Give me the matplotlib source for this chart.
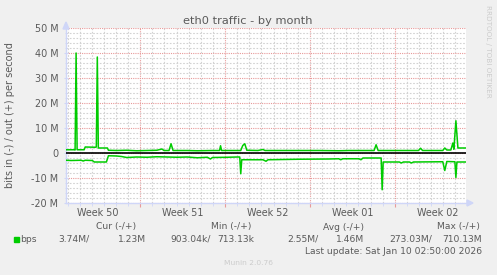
import datetime as dt
import matplotlib
matplotlib.use('Agg')
import matplotlib.pyplot as plt
import matplotlib.dates as mdates
from matplotlib.patches import Polygon, Rectangle

# ------------------------------------------------------------
# Data (values in Mbit/s, time in hours
# from the left edge of the 33 day window)
# ------------------------------------------------------------
start = dt.datetime(2025, 12, 8, 21, 0)
end = start + dt.timedelta(days=33)

out_hours = [0, 16, 18, 20, 22, 36, 38, 58, 60, 62, 64, 82, 84, 100, 120, 140,
             160, 180, 190, 194, 204, 208, 212, 240, 260, 290, 304, 306, 308,
             346, 350, 354, 358, 380, 390, 394, 450, 500, 540, 560, 610, 614,
             618, 660, 698, 702, 706, 746, 750, 754, 762, 766, 768, 772, 776, 792]
out_mbps = [1.3, 1.3, 1.2, 40.0, 1.3, 1.3, 2.4, 2.3, 2.4, 38.4, 2.0, 2.0, 1.1,
            1.0, 1.1, 0.9, 1.0, 1.1, 1.6, 1.0, 1.0, 3.7, 1.0, 1.0, 0.9, 1.0,
            1.0, 2.9, 1.0, 1.0, 3.0, 3.7, 1.1, 1.0, 1.4, 1.0, 1.0, 1.0, 0.9,
            1.0, 1.0, 3.3, 1.0, 1.0, 1.0, 1.9, 1.0, 1.0, 2.0, 1.2, 1.2, 4.0,
            1.5, 12.9, 2.0, 2.0]

in_hours = [0, 10, 30, 34, 38, 52, 56, 80, 84, 100, 110, 120, 140, 160, 180,
            200, 220, 240, 260, 280, 286, 290, 320, 340, 344, 346, 348, 390,
            396, 400, 460, 520, 540, 544, 548, 580, 584, 588, 624, 626, 628,
            660, 664, 668, 680, 684, 688, 746, 750, 754, 770, 772, 774, 792]
in_mbps = [-2.9, -3.0, -2.9, -3.2, -2.9, -3.0, -3.6, -3.6, -1.1, -1.2, -1.4,
           -1.8, -1.6, -1.7, -1.5, -1.6, -1.7, -1.6, -1.9, -1.7, -2.4, -1.8,
           -1.7, -1.6, -1.6, -8.3, -2.7, -2.7, -3.3, -2.7, -2.5, -2.4, -2.3,
           -2.7, -2.3, -2.3, -2.7, -2.0, -2.0, -14.7, -3.6, -3.6, -4.0, -3.6,
           -3.6, -4.0, -3.6, -3.5, -7.0, -3.4, -3.5, -9.8, -3.6, -3.6]

y_ticks = [-20, -10, 0, 10, 20, 30, 40, 50]
y_tick_labels = ['-20 M', '-10 M', '0', '10 M', '20 M', '30 M', '40 M', '50 M']

week_starts = [dt.datetime(2025, 12, 8), dt.datetime(2025, 12, 15),
               dt.datetime(2025, 12, 22), dt.datetime(2025, 12, 29),
               dt.datetime(2026, 1, 5)]
week_labels = ['Week 50', 'Week 51', 'Week 52', 'Week 01', 'Week 02']

legend_headers = ['Cur (-/+)', 'Min (-/+)', 'Avg (-/+)', 'Max (-/+)']
legend_values = ['3.74M/', '1.23M', '903.04k/', '713.13k',
                 '2.55M/', '1.46M', '273.03M/', '710.13M']
last_update = 'Last update: Sat Jan 10 02:50:00 2026'

# ------------------------------------------------------------
# Munin colours
# ------------------------------------------------------------
BACK = '#F0F0F0'
FONT = '#5A5A5A'
AXIS = '#CFD6F8'
LINE = '#00CC00'
GRID = '#D2D2D2'
MGRID = '#E89A9A'
W, H = 497, 275

fig = plt.figure(figsize=(W / 100, H / 100), dpi=100, facecolor=BACK)
ax = fig.add_axes([66 / W, 1 - 203 / H, 400 / W, 175 / H])
ax.set_facecolor('white')

out_t = [start + dt.timedelta(hours=h) for h in out_hours]
in_t = [start + dt.timedelta(hours=h) for h in in_hours]

ax.set_xlim(start, end)
ax.set_ylim(-20, 50)

# grid: minor every day / 2M, major every week / 10M
ax.xaxis.set_major_locator(mdates.WeekdayLocator(byweekday=mdates.MO))
ax.xaxis.set_minor_locator(mdates.DayLocator())
ax.set_yticks(y_ticks)
ax.set_yticklabels(y_tick_labels)
ax.set_yticks(range(-20, 51, 2), minor=True)
ax.set_xticklabels([])

ax.grid(which='minor', color=GRID, lw=0.8, ls=(0, (1.5, 1.5)))
ax.grid(which='major', color=MGRID, lw=0.8, ls=(0, (1, 1)))
ax.set_axisbelow(True)

ax.tick_params(axis='y', which='major', colors=AXIS, length=3, direction='inout',
               labelcolor=FONT, labelsize=6.9, pad=4)
ax.tick_params(axis='y', which='minor', colors=AXIS, length=2, direction='inout')
ax.tick_params(axis='x', which='major', colors=MGRID, length=3, direction='out')
ax.tick_params(axis='x', which='minor', colors=AXIS, length=2, direction='out')

for side in ['top', 'right']:
    ax.spines[side].set_visible(False)
for side in ['left', 'bottom']:
    ax.spines[side].set_color(AXIS)
    ax.spines[side].set_linewidth(1)

# week labels centred in each week
for ws, lab in zip(week_starts, week_labels):
    mid = ws + dt.timedelta(days=3.5)
    ax.text(mdates.date2num(mid), -0.06, lab, transform=ax.get_xaxis_transform(),
            ha='center', va='center', fontsize=6.9, color=FONT)

# data
ax.axhline(0, color='black', lw=1.2, zorder=3)
ax.plot(out_t, out_mbps, color=LINE, lw=1.1, zorder=4)
ax.plot(in_t, in_mbps, color=LINE, lw=1.1, zorder=4)

# axis arrows
def px(x, y):
    return (x / W, 1 - y / H)

fig.patches.append(Polygon([px(63, 29), px(69, 29), px(66, 22)], closed=True,
                           color=AXIS, transform=fig.transFigure))
fig.patches.append(Polygon([px(467, 200), px(467, 206), px(473, 203)], closed=True,
                           color=AXIS, transform=fig.transFigure))

# titles
fig.text(*px(248, 21), 'eth0 traffic - by month', ha='center', va='center',
         fontsize=8.2, color=FONT)
fig.text(*px(10, 115), 'bits in (-) / out (+) per second', ha='center', va='center',
         rotation=90, fontsize=7.0, color=FONT)
fig.text(*px(488, 5), 'RRDTOOL / TOBI OETIKER', ha='center', va='top',
         rotation=270, fontsize=5.2, color='#CCCCCC')

# legend
header_right = [136, 251, 364, 480]
for xr, txt in zip(header_right, legend_headers):
    fig.text(*px(xr, 227), txt, ha='right', va='center', fontsize=6.6, color=FONT)

fig.patches.append(Rectangle(px(14, 242), 5 / W, 5 / H, color=LINE,
                             transform=fig.transFigure))
fig.text(*px(20, 239), 'bps', ha='left', va='center', fontsize=6.6, color=FONT)
value_right = [90, 146, 211, 254, 319, 364, 432, 482]
for xr, txt in zip(value_right, legend_values):
    fig.text(*px(xr, 239), txt, ha='right', va='center', fontsize=6.6, color=FONT)

fig.text(*px(482, 251), last_update, ha='right', va='center', fontsize=6.6, color=FONT)
fig.text(*px(248, 263), 'Munin 2.0.76', ha='center', va='center', fontsize=5.4,
         color='#CCCCCC')

fig.savefig('out.png', dpi=100, facecolor=BACK)
